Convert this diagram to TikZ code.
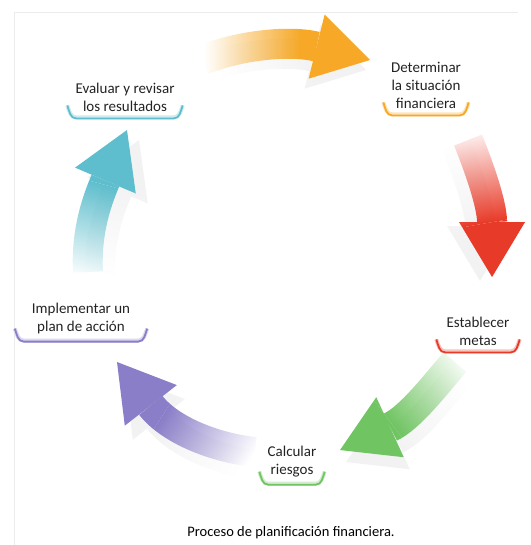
\documentclass[tikz,border=0pt]{standalone}
\usepackage{fontspec}
\setmainfont{Carlito}
\usepackage{tikz}
\usetikzlibrary{arrows.meta, fadings}
\definecolor{tealA}{RGB}{95,190,205}
\definecolor{goldA}{RGB}{246,168,38}
\definecolor{redA}{RGB}{232,58,40}
\definecolor{greenA}{RGB}{112,196,98}
\definecolor{violetA}{RGB}{138,126,200}
\definecolor{textA}{RGB}{35,35,35}
\tikzset{
  stage/.style={
    align=center,
    font=\fontsize{15}{18}\selectfont,
    text=textA,
    inner xsep=0pt,
    inner ysep=2pt
  },
  band/.style={
    line width=30pt,
    -{Triangle[length=55pt,width=66pt,line width=0pt]},
    path fading=arrowfade,
    fit fading=false
  },
  band shadow/.style={
    band,
    draw=gray!10
  },
  rim glow/.style={
    draw=#1!30,
    line width=4pt
  },
  rim/.style={
    draw=#1,
    line width=1.8pt
  }
}
\begin{tikzfadingfrompicture}[name=arrowfade]
  \fill[transparent!100] (-300bp,-300bp) rectangle (-82bp,300bp);
  \shade[left color=transparent!100, right color=transparent!0] (-82bp,-300bp) rectangle (15bp,300bp);
  \fill[transparent!0] (15bp,-300bp) rectangle (300bp,300bp);
\end{tikzfadingfrompicture}

\begin{document}
\begin{tikzpicture}[x=1pt, y=1pt]
    \useasboundingbox (0,0) rectangle (530,545);

    % marco
    \draw[gray!15, line width=1pt] (14,0) -- (14,532) -- (518,532);

    % etapas
    \node[stage, minimum width=115pt] (eval) at (125,448) {Evaluar y revisar\\los resultados};
    \node[stage, minimum width=85pt] (det) at (426,460) {Determinar\\la situación\\financiera};
    \node[stage, minimum width=83pt] (est) at (478,214) {Establecer\\metas};
    \node[stage, minimum width=65pt] (calc) at (292,83) {Calcular\\riesgos};
    \node[stage, minimum width=132pt] (impl) at (81,226) {Implementar un\\plan de acción};

    % subrayados
    \foreach \n/\c in {eval/tealA, det/goldA, est/redA, calc/greenA, impl/violetA} {
      \draw[rim glow=\c] ([yshift=8pt]\n.south west) to[out=-70, in=180] ([xshift=9pt, yshift=-4pt]\n.south west)
        -- ([xshift=-9pt, yshift=-4pt]\n.south east) to[out=0, in=-110] ([yshift=8pt]\n.south east);
      \draw[rim=\c] ([yshift=8pt]\n.south west) to[out=-70, in=180] ([xshift=9pt, yshift=-5pt]\n.south west)
        -- ([xshift=-9pt, yshift=-5pt]\n.south east) to[out=0, in=-110] ([yshift=8pt]\n.south east);
    }

    % extremos de las flechas
    \coordinate (o1) at (203,485);
    \coordinate (o2) at (370,485);
    \coordinate (r1) at (468,405);
    \coordinate (r2) at (492,268);
    \coordinate (g1) at (455,183);
    \coordinate (g2) at (340,95);
    \coordinate (p1) at (255,93);
    \coordinate (p2) at (117,183);
    \coordinate (c1) at (88,273);
    \coordinate (c2) at (127,415);

    % sombras
    \draw[band shadow, fading transform={shift={(300,478)}, rotate=0}] ([shift={(-4,-10)}]o1) .. controls (236,490) and (286,495) .. ([shift={(-4,-10)}]o2);
    \draw[band shadow, fading transform={shift={(472,324)}, rotate=-80}] ([shift={(-12,-4)}]r1) .. controls (468,371) and (480,336) .. ([shift={(-12,-4)}]r2);
    \draw[band shadow, fading transform={shift={(393,122)}, rotate=217}] ([shift={(6,-12)}]g1) .. controls (441,148) and (416,115) .. ([shift={(6,-12)}]g2);
    \draw[band shadow, fading transform={shift={(180,132)}, rotate=147}] ([shift={(8,-14)}]p1) .. controls (223,83) and (178,101) .. ([shift={(8,-14)}]p2);
    \draw[band shadow, fading transform={shift={(120,350)}, rotate=75}] ([shift={(12,-10)}]c1) .. controls (98,300) and (107,330) .. ([shift={(12,-10)}]c2);

    % flechas del ciclo
    \draw[band, draw=goldA, fading transform={shift={(286,487)}, rotate=0}] (o1) .. controls (240,500) and (290,505) .. (o2);
    \draw[band, draw=redA, fading transform={shift={(480,336)}, rotate=-80}] (r1) .. controls (480,375) and (492,340) .. (r2);
    \draw[band, draw=greenA, fading transform={shift={(397,139)}, rotate=217}] (g1) .. controls (435,160) and (410,127) .. (g2);
    \draw[band, draw=violetA, fading transform={shift={(186,138)}, rotate=147}] (p1) .. controls (215,97) and (170,115) .. (p2);
    \draw[band, draw=tealA, fading transform={shift={(107,344)}, rotate=75}] (c1) .. controls (86,310) and (95,340) .. (c2);

    \node[stage, text=black, font=\fontsize{14.5}{18}\selectfont] (caption) at (291,12) {Proceso de planificación financiera.};

\end{tikzpicture}
\end{document}
